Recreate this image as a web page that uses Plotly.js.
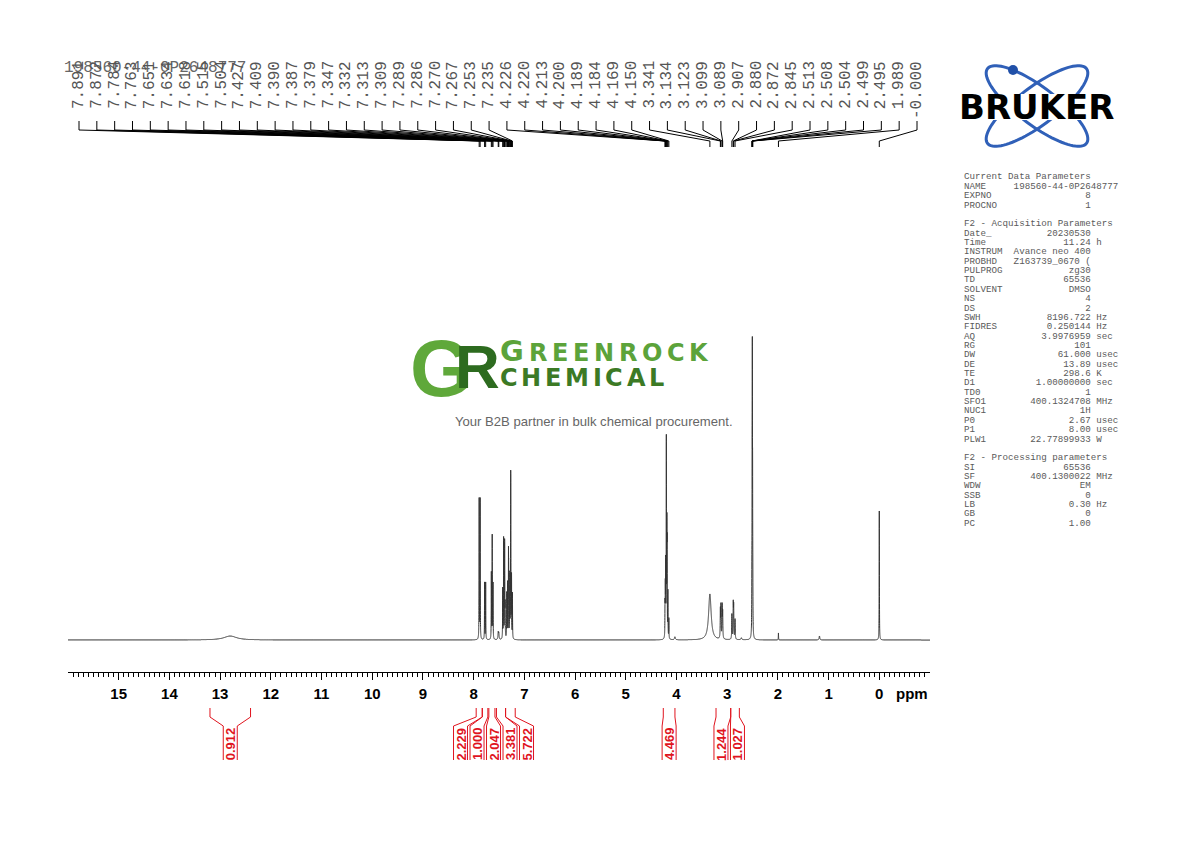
<!DOCTYPE html>
<html><head><meta charset="utf-8">
<script src="https://cdn.plot.ly/plotly-3.0.1.min.js"></script>
<style>html,body{margin:0;padding:0;background:#fff;}#chart{width:1190px;height:842px;}</style>
</head><body><div id="chart"></div>
<script>
// ---------------- data ----------------
const sampleName = "198560-44-0P2648777";
// spectrum lines: position (ppm), height (px above baseline), half width (ppm)
const peakPpm = [12.80,
  7.891, 7.872, 7.784, 7.763, 7.651, 7.634, 7.618, 7.515, 7.504,
  7.427, 7.409, 7.390, 7.387, 7.379, 7.347, 7.332, 7.313, 7.309, 7.289, 7.286, 7.270, 7.267, 7.253, 7.235,
  4.226, 4.220, 4.213, 4.200, 4.189, 4.184, 4.169, 4.150, 4.03,
  3.341, 3.134, 3.123, 3.099, 3.089,
  2.907, 2.880, 2.872, 2.845, 2.72,
  2.513, 2.508, 2.504, 2.499, 2.495,
  1.989, 1.18, 0.000];
const peakHeight = [4,
  140, 140, 57, 57, 66, 103, 55, 7, 6,
  50, 100, 70, 60, 30, 45, 55, 75, 55, 45, 40, 118, 105, 60, 45,
  30, 45, 70, 195, 100, 80, 45, 20, 3,
  46, 28, 32, 32, 25,
  25, 33, 30, 20, 2,
  40, 120, 240, 120, 40,
  7, 4, 129];
const peakWidth = [0.15,
  0.0025, 0.0025, 0.0025, 0.0025, 0.0025, 0.0025, 0.0025, 0.006, 0.006,
  0.0025, 0.0025, 0.0025, 0.0025, 0.0025, 0.0025, 0.0025, 0.0025, 0.0025, 0.0025, 0.0025, 0.0025, 0.0025, 0.0025, 0.0025,
  0.0025, 0.0025, 0.0025, 0.0025, 0.0025, 0.0025, 0.0025, 0.0025, 0.01,
  0.03, 0.004, 0.004, 0.004, 0.004,
  0.004, 0.004, 0.004, 0.004, 0.01,
  0.0025, 0.0025, 0.0025, 0.0025, 0.0025,
  0.0025, 0.008, 0.0025];
// peak-pick labels along the top
const peakLabels = ["7.891","7.872","7.784","7.763","7.651","7.634","7.618","7.515","7.504","7.427","7.409","7.390",
  "7.387","7.379","7.347","7.332","7.313","7.309","7.289","7.286","7.270","7.267","7.253","7.235",
  "4.226","4.220","4.213","4.200","4.189","4.184","4.169","4.150",
  "3.341","3.134","3.123","3.099","3.089","2.907","2.880","2.872","2.845",
  "2.513","2.508","2.504","2.499","2.495","1.989","-0.000"];
// integrals
const integralValues = ["0.912","2.229","1.000","2.047","3.381","5.722","4.469","1.244","1.027"];
const integralFrom = [13.2, 7.95, 7.83, 7.70, 7.55, 7.37, 4.26, 3.22, 2.93];
const integralTo   = [12.4, 7.83, 7.72, 7.58, 7.37, 7.18, 4.03, 2.93, 2.76];
// axis ticks
const xTickVals = [15,14,13,12,11,10,9,8,7,6,5,4,3,2,1,0];
const xTickText = ["15","14","13","12","11","10","9","8","7","6","5","4","3","2","1","0"];
// parameter panel
const currentNames = ["NAME","EXPNO","PROCNO"];
const currentValues = ["198560-44-0P2648777","8","1"];
const currentUnits = ["","",""];
const acqNames = ["Date_","Time","INSTRUM","PROBHD","PULPROG","TD","SOLVENT","NS","DS","SWH","FIDRES","AQ","RG","DW","DE","TE","D1","TD0","SFO1","NUC1","P0","P1","PLW1"];
const acqValues = ["20230530","11.24","Avance neo 400","Z163739_0670 (","zg30","65536","DMSO","4","2","8196.722","0.250144","3.9976959","101","61.000","13.89","298.6","1.00000000","1","400.1324708","1H","2.67","8.00","22.77899933"];
const acqUnits = ["","h","","","","","","","","Hz","Hz","sec","","usec","usec","K","sec","","MHz","","usec","usec","W"];
const procNames = ["SI","SF","WDW","SSB","LB","GB","PC"];
const procValues = ["65536","400.1300022","EM","0","0.30","0","1.00"];
const procUnits = ["","MHz","","","Hz","",""];

// ---------------- layout helpers ----------------
const W = 1190, H = 842, L = 68, R = 930, T = 0, B = 672;
const xRange = [16, -1];
const yRange = [-32, 640];
const px2x = p => (p - L) / (R - L);
const py2y = p => (B - p) / (B - T);
const ppm2px = v => L + (xRange[0] - v) / (xRange[0] - xRange[1]) * (R - L);
const mono = "Liberation Mono, Courier New, monospace";
const sans = "Liberation Sans, Arial, sans-serif";

// ---------------- spectrum ----------------
const specX = [], specY = [];
const nPts = 34000;
for (let k = 0; k <= nPts; k++) {
  const v = xRange[0] - k * (xRange[0] - xRange[1]) / nPts;
  let s = 0;
  for (let j = 0; j < peakPpm.length; j++) {
    const d = v - peakPpm[j], w = peakWidth[j];
    s += peakHeight[j] * w * w / (w * w + d * d);
  }
  specX.push(v); specY.push(s);
}

const annotations = [], shapes = [];

// title
annotations.push({xref:'paper', yref:'paper', x:px2x(62), y:py2y(68), xanchor:'left', yanchor:'middle',
  text:sampleName, showarrow:false, font:{family:mono, size:16, color:'#666'}});

// peak labels + connectors
const n = peakLabels.length;
peakLabels.forEach((t, i) => {
  const lx = 79 + i * (917 - 79) / (n - 1);
  annotations.push({xref:'paper', yref:'paper', x:px2x(lx), y:py2y(60), xanchor:'center', yanchor:'top',
    text:t, textangle:-90, showarrow:false, borderpad:0, font:{family:mono, size:16, color:'#555'}});
  const pxp = ppm2px(parseFloat(t));
  shapes.push({type:'path', xref:'paper', yref:'paper', layer:'above',
    path:`M ${px2x(lx)} ${py2y(121)} L ${px2x(lx)} ${py2y(130)} L ${px2x(pxp)} ${py2y(141)} L ${px2x(pxp)} ${py2y(147)}`,
    line:{color:'#000', width:1}});
});

// integrals
const regA = integralFrom.map(ppm2px), regB = integralTo.map(ppm2px);
const cen = regA.map((a, i) => (a + regB[i]) / 2);
const gap = 16.5;
for (let it = 0; it < 400; it++) {
  for (let i = 0; i < cen.length - 1; i++) {
    const dd = cen[i + 1] - cen[i];
    if (dd < gap) { const o = (gap - dd) / 2; cen[i] -= o; cen[i + 1] += o; }
  }
}
const red = '#e0141e';
integralValues.forEach((v, i) => {
  const a = regA[i], b = regB[i], c = cen[i];
  const pth = (x0, x1) => `M ${px2x(x0)} ${py2y(708)} L ${px2x(x0)} ${py2y(717)} L ${px2x(x1)} ${py2y(726)} L ${px2x(x1)} ${py2y(760)}`;
  shapes.push({type:'path', xref:'paper', yref:'paper', path:pth(a, c - 7), line:{color:red, width:1}});
  shapes.push({type:'path', xref:'paper', yref:'paper', path:pth(b, c + 7), line:{color:red, width:1}});
  annotations.push({xref:'paper', yref:'paper', x:px2x(c), y:py2y(744), xanchor:'center', yanchor:'middle',
    text:v, textangle:-90, showarrow:false, borderpad:0, font:{family:sans, size:13, weight:'bold', color:red}});
});

// ppm label
annotations.push({xref:'paper', yref:'paper', x:px2x(912), y:py2y(693), xanchor:'center', yanchor:'middle',
  text:'ppm', showarrow:false, font:{family:sans, size:15, weight:'bold', color:'#000'}});

// parameter panel
const panelLines = [];
const fmt = (nm, v, u) => {
  let s;
  if (nm.length + 1 + v.length > 23) s = nm.padEnd(9) + v;
  else s = nm + ' '.repeat(23 - nm.length - v.length) + v;
  if (u) s += ' ' + u;
  return s;
};
panelLines.push('Current Data Parameters');
currentNames.forEach((nm, i) => panelLines.push(fmt(nm, currentValues[i], currentUnits[i])));
panelLines.push('');
panelLines.push('F2 - Acquisition Parameters');
acqNames.forEach((nm, i) => panelLines.push(fmt(nm, acqValues[i], acqUnits[i])));
panelLines.push('');
panelLines.push('F2 - Processing parameters');
procNames.forEach((nm, i) => panelLines.push(fmt(nm, procValues[i], procUnits[i])));
panelLines.forEach((s, i) => {
  if (!s) return;
  annotations.push({xref:'paper', yref:'paper', x:px2x(963), y:py2y(177 + i * 9.36), xanchor:'left', yanchor:'middle',
    text:s.replace(/ /g, '\u00a0'), showarrow:false, borderpad:0, font:{family:mono, size:9.2, color:'#5a5a5a'}});
});

// Bruker logo
function ellipsePath(cx, cy, a, b, deg) {
  const t = deg * Math.PI / 180; let p = '';
  for (let i = 0; i <= 90; i++) {
    const u = i / 90 * 2 * Math.PI, ex = a * Math.cos(u), ey = b * Math.sin(u);
    const X = cx + ex * Math.cos(t) - ey * Math.sin(t), Y = cy + ex * Math.sin(t) + ey * Math.cos(t);
    p += (i ? ' L ' : 'M ') + px2x(X) + ' ' + py2y(Y);
  }
  return p + ' Z';
}
const blue = '#3060b8';
shapes.push({type:'path', xref:'paper', yref:'paper', path:ellipsePath(1037, 106, 62, 19, 37), line:{color:blue, width:3}});
shapes.push({type:'path', xref:'paper', yref:'paper', path:ellipsePath(1037, 106, 62, 19, -37), line:{color:blue, width:3}});
shapes.push({type:'circle', xref:'paper', yref:'paper', x0:px2x(1008), x1:px2x(1018), y0:py2y(75), y1:py2y(65), fillcolor:'#2050a8', line:{width:0}});
shapes.push({type:'rect', xref:'paper', yref:'paper', x0:px2x(956), x1:px2x(1118), y0:py2y(120), y1:py2y(94), fillcolor:'#fff', line:{width:0}});
annotations.push({xref:'paper', yref:'paper', x:px2x(1036), y:py2y(107), xanchor:'center', yanchor:'middle',
  text:'BRUKER', showarrow:false, font:{family:'DejaVu Sans, Arial Black, sans-serif', size:34, weight:'bold', color:'#000'}});

// watermark
annotations.push({xref:'paper', yref:'paper', x:px2x(441), y:py2y(369), xanchor:'center', yanchor:'middle',
  text:'G', showarrow:false, font:{family:sans, size:80, weight:'bold', color:'#5fa83a'}});
annotations.push({xref:'paper', yref:'paper', x:px2x(477), y:py2y(366), xanchor:'center', yanchor:'middle',
  text:'R', showarrow:false, font:{family:sans, size:62, weight:'bold', color:'#2d6b1f'}});
const letterW = {G:.821,R:.770,E:.683,N:.837,O:.850,C:.734,K:.775,H:.837,M:.995,I:.372,A:.774,L:.637};
function spaced(word, x0, baseline, sizes, gapPx, color) {
  let x = x0;
  word.split('').forEach((ch, i) => {
    const sz = sizes[i], w = letterW[ch] * sz;
    annotations.push({xref:'paper', yref:'paper', x:px2x(x + w / 2), y:py2y(baseline - 0.365 * sz), xanchor:'center', yanchor:'middle',
      text:ch, showarrow:false, borderpad:0, font:{family:'DejaVu Sans, sans-serif', size:sz, weight:'bold', color:color}});
    x += w + gapPx;
  });
}
spaced('GREENROCK', 500, 362, [29,24,24,24,24,24,24,24,24], 4.7, '#5ca33a');
spaced('CHEMICAL', 500, 387, [24,24,24,24,24,24,24,24], 3.7, '#3c7a25');
annotations.push({xref:'paper', yref:'paper', x:px2x(594), y:py2y(421), xanchor:'center', yanchor:'middle',
  text:'Your B2B partner in bulk chemical procurement.', showarrow:false, font:{family:sans, size:13.1, color:'#666'}});

// minor ticks every 0.1 ppm
const minorVals = [];
for (let k = -10; k <= 160; k++) if (k % 10 !== 0) minorVals.push(k / 10);

const trace = {type:'scatter', mode:'lines', x:specX, y:specY, hoverinfo:'skip',
  line:{color:'#333', width:1, simplify:false}};

const layout = {
  width:W, height:H, margin:{l:L, r:W - R, t:T, b:H - B, pad:0},
  paper_bgcolor:'#fff', plot_bgcolor:'rgba(0,0,0,0)', showlegend:false,
  xaxis:{range:xRange, tickmode:'array', tickvals:xTickVals, ticktext:xTickText, ticks:'outside', ticklen:7,
    tickwidth:1, tickcolor:'#000', showline:true, linecolor:'#000', linewidth:1, showgrid:false, zeroline:false,
    ticklabelstandoff:1,
    tickfont:{family:sans, size:15, weight:'bold', color:'#000'},
    minor:{tickmode:'array', tickvals:minorVals, ticks:'outside', ticklen:4, tickwidth:1, tickcolor:'#000', showgrid:false}},
  yaxis:{range:yRange, visible:false, showgrid:false, zeroline:false},
  annotations:annotations, shapes:shapes
};
Plotly.newPlot('chart', [trace], layout, {staticPlot:true, displayModeBar:false});
</script>
</body></html>
